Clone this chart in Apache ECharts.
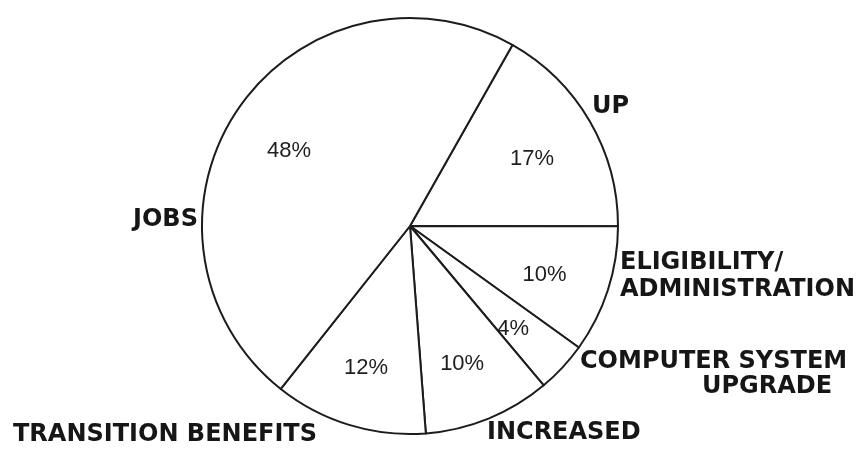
<!DOCTYPE html>
<html>
<head>
<meta charset="utf-8">
<script src="https://cdn.jsdelivr.net/npm/echarts@6/dist/echarts.min.js"></script>
<style>
  html, body { margin: 0; padding: 0; background: #ffffff; }
  #chart { width: 858px; height: 451px; }
</style>
</head>
<body>
<div id="chart"></div>
<script>
// Budget shares by category (percent)
const categories = ['UP', 'ELIGIBILITY/ADMINISTRATION', 'COMPUTER SYSTEM UPGRADE', 'INCREASED', 'TRANSITION BENEFITS', 'JOBS'];
const shares = [17, 10, 4, 10, 12, 48];
// Category captions as drawn, one entry per line
const captionLines = [
  ['UP'],
  ['ELIGIBILITY/', 'ADMINISTRATION'],
  ['COMPUTER SYSTEM', 'UPGRADE'],
  ['INCREASED'],
  ['TRANSITION BENEFITS'],
  ['JOBS']
];

// Caption placement: left edge and vertical centre of each line
const captionPlacement = [
  [[592, 107]],
  [[620, 263], [620, 290]],
  [[580, 362], [702, 387]],
  [[487, 433]],
  [[13, 435]],
  [[133, 220]]
];

const CENTER = [410, 226];
const RADIUS = 208;
const START = 60.5;

const pieData = categories.map((name, i) => ({ name: name, value: shares[i] }));

const captions = [];
captionLines.forEach((lines, i) => {
  lines.forEach((line, j) => {
    captions.push({
      type: 'text',
      silent: true,
      x: captionPlacement[i][j][0],
      y: captionPlacement[i][j][1],
      style: {
        text: line,
        fill: '#161616',
        font: 'bold 24px "DejaVu Sans"',
        textAlign: 'left',
        textVerticalAlign: 'middle'
      }
    });
  });
});

const chart = echarts.init(document.getElementById('chart'), null, { renderer: 'canvas' });
chart.setOption({
  backgroundColor: '#ffffff',
  animation: false,
  series: [
    {
      // the pie itself: white wedges with dark outlines
      type: 'pie',
      center: CENTER,
      radius: RADIUS,
      startAngle: START,
      clockwise: true,
      silent: true,
      data: pieData,
      itemStyle: { color: '#ffffff', borderColor: '#1c1c1c', borderWidth: 2 },
      label: { show: false },
      labelLine: { show: false },
      emphasis: { disabled: true }
    },
    {
      // invisible ring carrying the percentage labels a bit further out
      type: 'pie',
      center: CENTER,
      radius: RADIUS * 1.35,
      startAngle: START,
      clockwise: true,
      silent: true,
      z: 3,
      data: pieData,
      itemStyle: { color: 'rgba(0,0,0,0)', borderWidth: 0 },
      label: {
        show: true,
        position: 'inside',
        formatter: '{c}%',
        color: '#1e1e1e',
        fontFamily: '"Liberation Sans"',
        fontSize: 22,
        offset: [-2, 5]
      },
      labelLine: { show: false },
      emphasis: { disabled: true }
    }
  ],
  graphic: captions
});
</script>
</body>
</html>
